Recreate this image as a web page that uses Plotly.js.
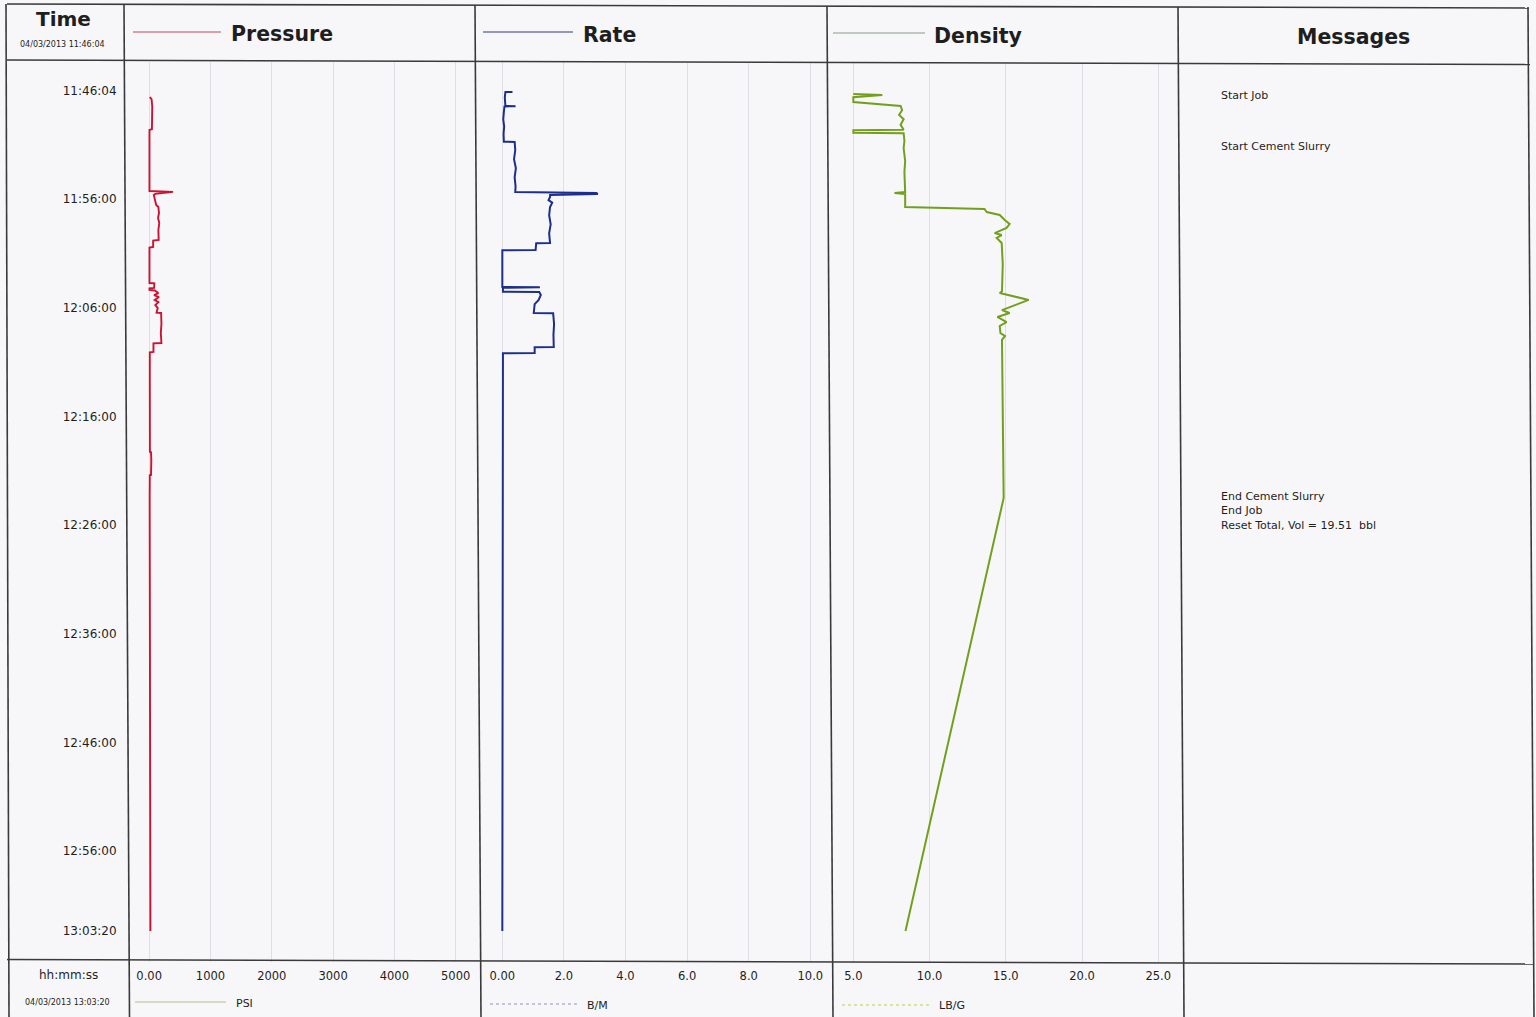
<!DOCTYPE html>
<html>
<head>
<meta charset="utf-8">
<script src="https://cdn.plot.ly/plotly-3.0.1.min.js"></script>
<style>
  html, body { margin: 0; padding: 0; background: #f7f7f9; }
  #chart { width: 1536px; height: 1017px; }
</style>
</head>
<body>
<div id="chart"></div>
<script>
// ---------------- DATA ----------------
const jobDate = '2013-04-03';

const pressureTimes = ['11:46:37','11:46:50','11:47:30','11:48:20','11:49:00','11:49:35','11:49:39','11:51:00','11:53:00','11:55:16','11:55:21','11:55:27','11:55:32','11:55:38','11:56:00','11:56:33','11:56:44','11:57:17','11:57:45','11:58:13','11:58:51','11:59:30','11:59:46','11:59:50','12:00:25','12:00:28','12:02:00','12:03:44','12:03:46','12:04:11','12:04:13','12:04:22','12:04:25','12:04:39','12:04:50','12:05:01','12:05:17','12:05:29','12:05:45','12:06:02','12:06:27','12:06:29','12:07:30','12:08:20','12:09:15','12:09:17','12:10:04','12:10:06','12:12:39','12:16:20','12:19:16','12:19:18','12:20:01','12:21:23','12:21:25','12:23:30','13:03:20'];
const pressureValues = [10,40,50,45,50,45,5,3,5,5,390,180,100,75,90,115,150,160,145,165,150,160,155,65,65,5,5,5,85,80,5,5,90,150,80,160,90,150,100,140,120,195,200,190,200,70,70,10,10,12,12,30,35,30,10,8,20];

const rateTimes = ['11:46:09','11:46:10','11:46:40','11:47:10','11:47:27','11:47:28','11:47:29','11:48:00','11:48:40','11:49:20','11:50:00','11:50:44','11:50:45','11:51:30','11:52:20','11:53:10','11:54:00','11:54:50','11:55:21','11:55:27','11:55:32','11:55:38','11:55:49','11:56:06','11:56:20','11:56:44','11:57:30','11:58:20','11:59:10','12:00:03','12:00:04','12:00:42','12:00:43','12:02:00','12:04:06','12:04:07','12:04:10','12:04:32','12:04:33','12:04:50','12:05:17','12:05:40','12:06:10','12:06:29','12:06:30','12:07:30','12:08:30','12:09:37','12:09:38','12:10:10','12:10:11','12:16:00','12:23:30','13:03:20'];
const rateValues = [0.33,0.10,0.08,0.10,0.10,0.43,0.07,0.05,0.03,0.06,0.04,0.05,0.40,0.42,0.38,0.44,0.40,0.43,0.42,3.05,3.10,1.55,1.55,1.50,1.62,1.55,1.52,1.57,1.52,1.55,1.10,1.08,0.0,0.0,0.0,1.22,0.02,0.02,1.20,1.25,1.18,1.05,1.02,1.02,1.65,1.68,1.66,1.67,1.05,1.05,0.02,0.02,0.02,0.0];

const densityTimes = ['11:46:20','11:46:26','11:46:38','11:47:05','11:47:27','11:47:50','11:48:16','11:48:40','11:49:10','11:49:38','11:49:40','11:49:55','11:49:57','11:50:40','11:51:20','11:52:30','11:53:30','11:54:40','11:55:22','11:55:27','11:55:33','11:56:44','11:56:55','11:57:12','11:57:28','11:57:56','11:58:18','11:58:40','11:59:08','11:59:19','11:59:35','12:00:03','12:02:00','12:04:30','12:04:39','12:05:17','12:06:13','12:06:29','12:06:51','12:07:19','12:07:41','12:08:20','12:08:36','12:08:58','12:12:00','12:16:00','12:20:00','12:23:30','13:03:20'];
const densityValues = [5.0,6.9,5.0,5.0,8.1,8.2,8.0,8.3,8.1,8.3,5.0,5.0,8.3,8.35,8.3,8.4,8.35,8.4,8.4,7.7,8.4,8.4,13.6,13.75,14.6,14.93,15.25,15.05,14.27,14.73,14.4,14.73,14.8,14.75,14.6,16.5,14.75,15.25,14.45,15.05,14.6,14.65,14.95,14.75,14.78,14.8,14.85,14.86,8.42];

const timeTickLabels = ['11:46:04','11:56:00','12:06:00','12:16:00','12:26:00','12:36:00','12:46:00','12:56:00','13:03:20'];
const pressureTicks = [0,1000,2000,3000,4000,5000];
const pressureTickLabels = ['0.00','1000','2000','3000','4000','5000'];
const rateTicks = [0,2,4,6,8,10];
const rateTickLabels = ['0.00','2.0','4.0','6.0','8.0','10.0'];
const densityTicks = [5,10,15,20,25];
const densityTickLabels = ['5.0','10.0','15.0','20.0','25.0'];

const messageTimes = ['11:46:26','11:51:08','12:23:19'];
const messageTexts = ['Start Job','Start Cement Slurry','End Cement Slurry<br>End Job<br>Reset Total, Vol = 19.51\u00a0 bbl'];

const startLabel = '04/03/2013 11:46:04';
const endLabel = '04/03/2013 13:03:20';

// ---------------- LAYOUT HELPERS ----------------
const W = 1536, H = 1017;
const px = x => x / W;
const py = y => 1 - y / H;
const ts = t => jobDate + ' ' + t;
const FONT = 'DejaVu Sans, Verdana, sans-serif';
const TXT = '#1e1e1e';

const traces = [
  { x: pressureValues, y: pressureTimes.map(ts), xaxis: 'x', yaxis: 'y', type: 'scatter', mode: 'lines',
    line: { color: '#cc1233', width: 1.9 }, name: 'Pressure', hoverinfo: 'skip' },
  { x: rateValues, y: rateTimes.map(ts), xaxis: 'x2', yaxis: 'y', type: 'scatter', mode: 'lines',
    line: { color: '#1d2f8a', width: 2 }, name: 'Rate', hoverinfo: 'skip' },
  { x: densityValues, y: densityTimes.map(ts), xaxis: 'x3', yaxis: 'y', type: 'scatter', mode: 'lines',
    line: { color: '#72a01e', width: 2 }, name: 'Density', hoverinfo: 'skip' }
];

function xAxis(domain, range, tickvals, ticktext) {
  return {
    domain: domain, range: range, anchor: 'y',
    tickvals: tickvals, ticktext: ticktext,
    showgrid: true, gridcolor: '#dedee3', gridwidth: 1,
    zeroline: false, showline: false,
    ticks: 'outside', ticklen: 3, tickcolor: 'rgba(0,0,0,0)',
    tickfont: { family: FONT, size: 11.5, color: TXT },
    fixedrange: true
  };
}

const yTop = 62, yBot = 962;

const layout = {
  width: W, height: H,
  margin: { l: 0, r: 0, t: 0, b: 0 },
  paper_bgcolor: '#f7f7f9', plot_bgcolor: '#f7f7f9',
  showlegend: false,
  xaxis: xAxis([px(126), px(478)], [-378, 5364], pressureTicks, pressureTickLabels),
  xaxis2: xAxis([px(478), px(830)], [-0.79, 10.64], rateTicks, rateTickLabels),
  xaxis3: xAxis([px(830), px(1181)], [3.47, 26.49], densityTicks, densityTickLabels),
  yaxis: {
    type: 'date', domain: [py(yBot), py(yTop)],
    range: [ts('13:06:11'), ts('11:43:24')],
    anchor: 'x',
    tickvals: timeTickLabels.map(ts), ticktext: timeTickLabels,
    showgrid: false, zeroline: false, showline: false,
    ticks: 'outside', ticklen: 6, tickcolor: 'rgba(0,0,0,0)',
    tickfont: { family: FONT, size: 12, color: TXT },
    fixedrange: true
  },
  shapes: [],
  annotations: []
};

// borders (scan is slightly skewed)
const borders = [
  [7,4,1529,8], [7,60,1530,64.5], [7,959.5,1534,964],
  [6,4,9,1017], [124,4,129.5,1017], [475,5,481,1017], [827,6,833,1017],
  [1178,7,1184,1017], [1528,7,1534,1017]
];
borders.forEach(b => layout.shapes.push({
  type: 'line', xref: 'paper', yref: 'paper',
  x0: px(b[0]), y0: py(b[1]), x1: px(b[2]), y1: py(b[3]),
  line: { color: '#3a3a3a', width: 1.6 }
}));

// legend sample lines (header and footer)
const legendLines = [
  [133,32,221,32,'#c8485c','solid'],
  [483,32,573,32,'#2a3a8a','solid'],
  [833,33,925,33,'#8c9a8c','solid'],
  [135,1002,226,1002,'#b9b98e','solid'],
  [490,1004,578,1004,'#8f90c4','dot'],
  [842,1005,930,1005,'#c2d040','dot']
];
legendLines.forEach(l => layout.shapes.push({
  type: 'line', xref: 'paper', yref: 'paper',
  x0: px(l[0]), y0: py(l[1]), x1: px(l[2]), y1: py(l[3]),
  line: { color: l[4], width: 1.2, dash: l[5] }
}));

function label(text, x, y, size, anchor, bold) {
  layout.annotations.push({
    text: text, xref: 'paper', yref: 'paper', x: px(x), y: py(y),
    xanchor: anchor, yanchor: 'middle', showarrow: false,
    font: { family: FONT, size: size, color: TXT, weight: bold ? 700 : 400 }
  });
}
label('Time', 63, 19, 20, 'center', true);
label(startLabel, 62, 45, 8, 'center', false);
label('Pressure', 229, 34, 20.5, 'left', true);
label('Rate', 581, 35, 20.5, 'left', true);
label('Density', 932, 36, 20.5, 'left', true);
label('Messages', 1353, 37, 20.5, 'center', true);
label('hh:mm:ss', 68, 975, 12, 'center', false);
label(endLabel, 67, 1002, 8, 'center', false);
label('PSI', 234, 1003, 11, 'left', false);
label('B/M', 585, 1005, 11, 'left', false);
label('LB/G', 937, 1005, 11, 'left', false);

// messages placed at their times
messageTimes.forEach((t, i) => layout.annotations.push({
  text: messageTexts[i], xref: 'paper', yref: 'y', x: px(1219), y: ts(t),
  xanchor: 'left', yanchor: 'top', yshift: 8, align: 'left', showarrow: false,
  font: { family: FONT, size: 11, color: TXT }
}));

Plotly.newPlot('chart', traces, layout, { displayModeBar: false, staticPlot: true });
</script>
</body>
</html>
